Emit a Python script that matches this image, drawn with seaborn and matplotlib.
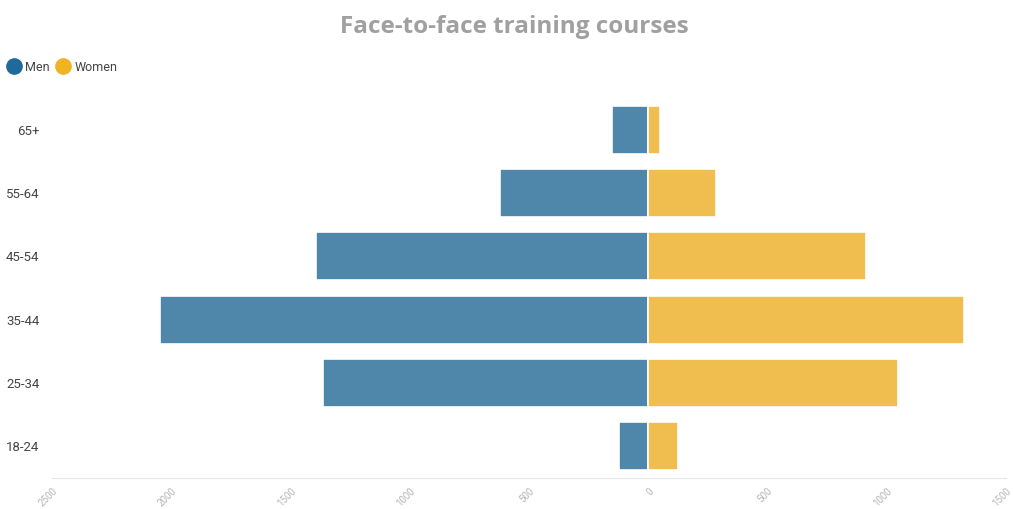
import pandas as pd
import seaborn as sns
import matplotlib.pyplot as plt
from matplotlib.lines import Line2D

age_groups = ["65+", "55-64", "45-54", "35-44", "25-34", "18-24"]
men = [150, 622, 1394, 2045, 1365, 121]
women = [50, 284, 914, 1323, 1048, 125]
tick_values = [-2500, -2000, -1500, -1000, -500, 0, 500, 1000, 1500]

men_color = "#4f87ab"
women_color = "#f0bd4f"

df = pd.DataFrame({
    "age": age_groups * 2,
    "value": [-v for v in men] + women,
    "sex": ["Men"] * len(men) + ["Women"] * len(women),
})

sns.set_style("white")
plt.rcParams["font.family"] = ["Roboto", "DejaVu Sans"]

fig = plt.figure(figsize=(10.13, 5.09), dpi=100)
ax = fig.add_axes([0.0513, 0.0609, 0.9417, 0.7466])

sns.barplot(data=df, y="age", x="value", hue="sex", order=age_groups,
            palette={"Men": men_color, "Women": women_color},
            dodge=False, width=0.76, edgecolor="white", linewidth=1.2,
            saturation=1, orient="h", ax=ax, legend=False)

ax.set_xlim(-2500, 1500)
ax.set_ylim(5.5, -0.5)
ax.set_xticks(tick_values)
ax.set_xticklabels([str(abs(v)) for v in tick_values], rotation=45,
                   ha="right", rotation_mode="anchor",
                   color="#b5b5b5", fontsize=7)
ax.tick_params(axis="x", length=4, color="#e6e6e6", pad=2)
ax.tick_params(axis="y", length=6, color="#e6e6e6", labelsize=9.5,
               labelcolor="#444444", pad=3)
ax.set_xlabel("")
ax.set_ylabel("")
for side in ["top", "right", "left"]:
    ax.spines[side].set_visible(False)
ax.spines["bottom"].set_color("#e6e6e6")

fig.text(0.508, 0.946, "Face-to-face training courses", ha="center",
         va="center", fontsize=17.5, fontweight="bold", color="#a0a0a0",
         family=["Open Sans", "DejaVu Sans"])

handles = [
    Line2D([0], [0], marker="o", linestyle="", markersize=11,
           markerfacecolor="#1f6a9a", markeredgecolor="#1f6a9a", label="Men"),
    Line2D([0], [0], marker="o", linestyle="", markersize=11,
           markerfacecolor="#f0b323", markeredgecolor="#f0b323", label="Women"),
]
fig.legend(handles=handles, loc="center left", bbox_to_anchor=(-0.01, 0.868),
           ncol=2, frameon=False, fontsize=9, handletextpad=-0.1,
           columnspacing=0.1, labelcolor="#444444")

fig.savefig("out.png", dpi=100)
